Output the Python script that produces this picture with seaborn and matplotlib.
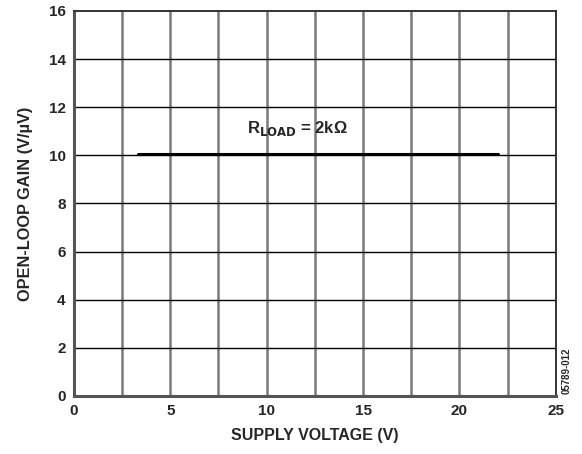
import matplotlib
matplotlib.use("Agg")
import matplotlib.pyplot as plt
import numpy as np
import pandas as pd
import seaborn as sns

# Open-loop gain vs supply voltage, R_LOAD = 2 kOhm
supply_voltage = [3.3, 22.0]
open_loop_gain = [10.05, 10.05]
x_ticks = [0, 5, 10, 15, 20, 25]
y_ticks = [0, 2, 4, 6, 8, 10, 12, 14, 16]

sns.set_theme(style="white")
plt.rcParams["font.family"] = ["Liberation Sans", "DejaVu Sans"]

df = pd.DataFrame({"v": supply_voltage, "gain": open_loop_gain})

fig = plt.figure(figsize=(5.82, 4.54), dpi=100)
ax = fig.add_axes([0.127, 0.128, 0.828, 0.848])

# grid: gray verticals every 2.5 V, black horizontals every 2 V/uV
for xv in np.arange(2.5, 25, 2.5):
    ax.axvline(xv, color="#7a7a7a", lw=1.8, zorder=1)
for yv in np.arange(2, 16, 2):
    ax.axhline(yv, color="black", lw=1.0, zorder=1)

sns.lineplot(data=df, x="v", y="gain", ax=ax, color="black", lw=2.2, zorder=3)

ax.set_xlim(0, 25)
ax.set_ylim(0, 16)
ax.set_xticks(x_ticks)
ax.set_yticks(y_ticks)
ax.tick_params(axis="both", length=0, labelsize=11, pad=6)
for lab in ax.get_xticklabels() + ax.get_yticklabels():
    lab.set_fontweight("bold")

for side in ["left", "bottom"]:
    ax.spines[side].set_color("#555555")
    ax.spines[side].set_linewidth(2.2)
for side in ["top", "right"]:
    ax.spines[side].set_color("#333333")
    ax.spines[side].set_linewidth(1.4)

ax.set_xlabel("SUPPLY VOLTAGE (V)", fontsize=11.5, fontweight="bold", labelpad=7)
ax.set_ylabel("OPEN-LOOP GAIN (V/µV)", fontsize=11.8, fontweight="bold", labelpad=11)

ax.text(11.6, 10.7, r"R$_{\mathbf{LOAD}}$ = 2kΩ", ha="center", va="bottom",
        fontsize=12, fontweight="bold")

fig.text(0.973, 0.183, "05789-012", rotation=90, fontsize=7, fontweight="bold",
         ha="center", va="center")

fig.savefig("out.png", dpi=100)
